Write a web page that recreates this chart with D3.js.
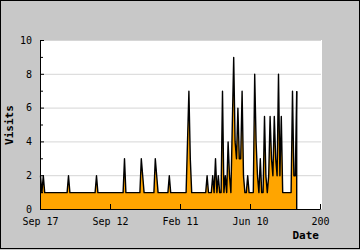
<!DOCTYPE html>
<html><head><meta charset="utf-8">
<script src="https://cdn.jsdelivr.net/npm/d3@7"></script>
<style>html,body{margin:0;padding:0;background:#c8c8c8;} svg{display:block}</style>
</head><body><svg id="c" width="360" height="250"></svg>
<script>
// Daily visits (index 0..183)
const visits = [
  2,1,2,1,1,1,1,1,1,1,
  1,1,1,1,1,1,1,1,1,1,
  2,1,1,1,1,1,1,1,1,1,
  1,1,1,1,1,1,1,1,1,1,
  2,1,1,1,1,1,1,1,1,1,
  1,1,1,1,1,1,1,1,1,1,
  3,1,1,1,1,1,1,1,1,1,
  1,1,3,2,1,1,1,1,1,1,
  1,1,3,2,1,1,1,1,1,1,
  1,1,2,1,1,1,1,1,1,1,
  1,1,1,1,1,4,7,3,1,1,
  1,1,1,1,1,1,1,1,1,2,
  1,1,1,2,1,3,1,2,1,1,
  7,1,2,1,4,2,1,5,9,4,
  3,6,3,3,7,2,1,1,2,1,
  1,1,1,8,4,2,1,3,1,1,
  5.5,2,1,2,5.5,3,2,5.5,3,2,
  8,2,5.5,1,1,1,1,1,1,1,
  7,2,2,7
];
const xTickValues = [0, 50, 100, 150, 200];
const xTickLabels = ["Sep 17", "Sep 12", "Feb 11", "Jun 10", "200"];
const yTickValues = [0, 2, 4, 6, 8, 10];
const yMinorTicks = [1, 3, 5, 7, 9];
const gridValues = [2, 4, 6, 8, 10];
const xTitle = "Date";
const yTitle = "Visits";

const svg = d3.select("#c");
const W = 360, H = 250;
const L = 40, R = 320, T = 40, B = 209;
const x = d3.scaleLinear().domain([0, 200]).range([L, R]);
const y = d3.scaleLinear().domain([0, 10]).range([B, T]);
const FONT = "'DejaVu Sans Mono', monospace";

svg.append("rect").attr("width", W).attr("height", H).attr("fill", "#c8c8c8");
svg.append("rect").attr("x", 0.5).attr("y", 0.5).attr("width", 359).attr("height", 248)
  .attr("fill", "none").attr("stroke", "#000");
svg.append("rect").attr("x", L + 1).attr("y", T).attr("width", R - L + 1).attr("height", B - T)
  .attr("fill", "#fff");

// grid
svg.append("g").selectAll("line").data(gridValues).join("line")
  .attr("x1", L + 1).attr("x2", R + 1)
  .attr("y1", d => y(d) + 0.5).attr("y2", d => y(d) + 0.5)
  .attr("stroke", "#d6d6d6").attr("stroke-width", 1);

// area + line
const idx = visits.map((v, i) => i);
const area = d3.area().x(i => x(i) + 0.5).y0(y(0) + 0.5).y1(i => y(visits[i]) + 0.5);
const line = d3.line().x(i => x(i) + 0.5).y(i => y(visits[i]) + 0.5);
svg.append("path").datum(idx).attr("d", area).attr("fill", "#ffa500");
svg.append("path").datum(idx).attr("d", line).attr("fill", "none")
  .attr("stroke", "#000").attr("stroke-width", 1.4).attr("stroke-linejoin", "round");
const last = visits.length - 1;
svg.append("line").attr("x1", x(last) + 0.5).attr("x2", x(last) + 0.5)
  .attr("y1", y(visits[last]) + 0.5).attr("y2", y(0) + 0.5)
  .attr("stroke", "#000").attr("stroke-width", 1.4);

// axes
const yAx = svg.append("g").attr("transform", `translate(${L},0)`)
  .call(d3.axisLeft(y).tickValues(yTickValues).tickSizeInner(-4).tickSizeOuter(0).tickPadding(8));
svg.append("g").attr("transform", `translate(${L},0)`)
  .call(d3.axisLeft(y).tickValues(yMinorTicks).tickFormat("").tickSizeInner(-3).tickSizeOuter(0))
  .select(".domain").remove();
const xAx = svg.append("g").attr("transform", `translate(0,${B})`)
  .call(d3.axisBottom(x).tickValues(xTickValues).tickFormat((d, i) => xTickLabels[i])
    .tickSizeInner(-5).tickSizeOuter(0).tickPadding(9));
svg.selectAll(".tick text").attr("font-family", FONT).attr("font-size", 10).attr("fill", "#000");
svg.selectAll(".domain, .tick line").attr("stroke", "#000");

// titles
svg.append("text").attr("transform", "translate(13,125) rotate(-90)")
  .attr("text-anchor", "middle").attr("font-family", FONT).attr("font-weight", "bold")
  .attr("font-size", 11).text(yTitle);
svg.append("text").attr("x", 319).attr("y", 239).attr("text-anchor", "end")
  .attr("font-family", FONT).attr("font-weight", "bold").attr("font-size", 11).text(xTitle);
</script>
</body></html>
